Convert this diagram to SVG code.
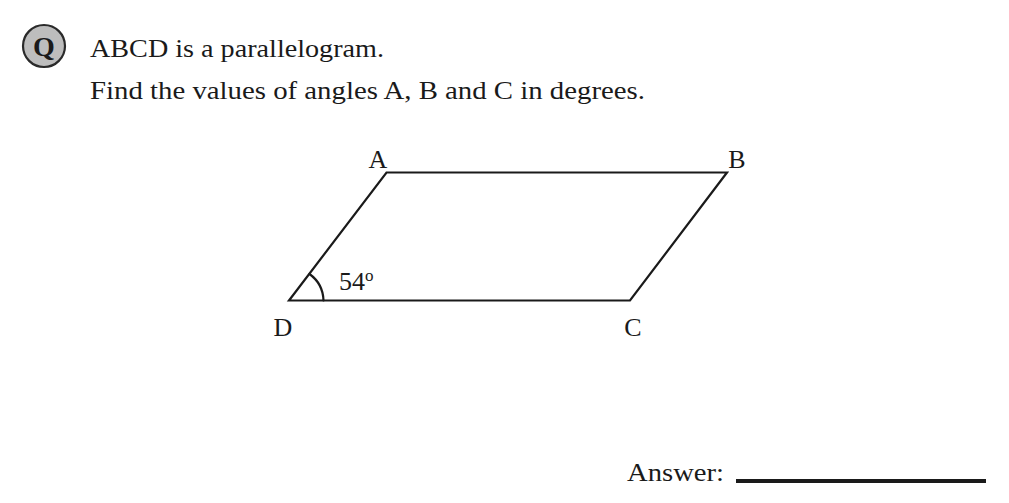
<svg xmlns="http://www.w3.org/2000/svg" width="1009" height="503" viewBox="0 0 1009 503">
<style>
.t{font-family:"Liberation Serif","DejaVu Serif",serif;fill:#1a1a1a}
.edge{stroke:#1a1a1a;stroke-width:2.2;fill:none;stroke-linecap:round}
</style>
<rect width="1009" height="503" fill="#fff"/>
<g id="q-badge">
<circle cx="44" cy="46" r="21" fill="#bdbdbd" stroke="#2a2a2a" stroke-width="2.2"/>
<text class="t" x="44" y="56" font-size="28" font-weight="bold" text-anchor="middle">Q</text>
</g>
<g id="question">
<text class="t" x="90" y="57" font-size="26" textLength="294" lengthAdjust="spacingAndGlyphs">ABCD is a parallelogram.</text>
<text class="t" x="90" y="99" font-size="26" textLength="555" lengthAdjust="spacingAndGlyphs">Find the values of angles A, B and C in degrees.</text>
</g>
<g id="connectors">
<polygon class="edge" points="289,300.5 386.5,172.5 727,172.5 630,300.5"/>
<path class="edge" d="M309.5,274 A34,34 0 0 1 323.5,300.5"/>
</g>
<g id="labels">
<text class="t" x="378" y="168" font-size="26" text-anchor="middle">A</text>
<text class="t" x="737" y="168" font-size="26" text-anchor="middle">B</text>
<text class="t" x="283" y="336" font-size="26" text-anchor="middle">D</text>
<text class="t" x="633" y="336" font-size="26" text-anchor="middle">C</text>
<text class="t" x="339" y="290" font-size="26">54<tspan font-size="17" dy="-9">o</tspan></text>
</g>
<g id="answer">
<text class="t" x="627" y="481" font-size="26" textLength="97" lengthAdjust="spacingAndGlyphs">Answer:</text>
<line x1="736" y1="481" x2="986" y2="481" stroke="#1a1a1a" stroke-width="4"/>
</g>
</svg>
